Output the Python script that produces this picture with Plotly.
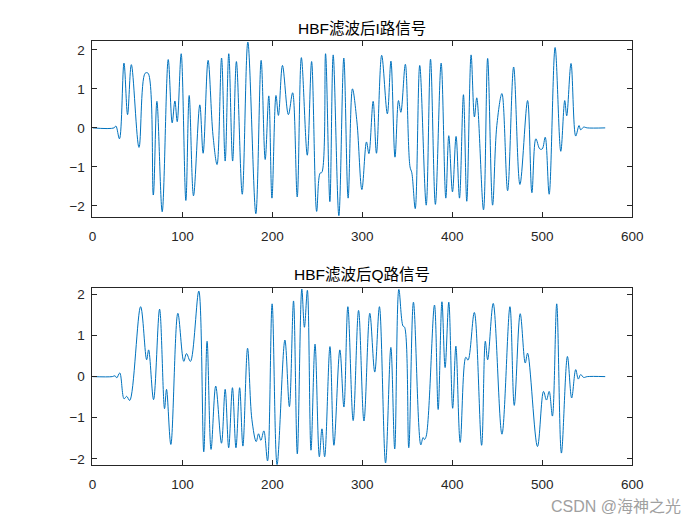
import plotly.graph_objects as go

# ---- data (extrema of the filtered signals) ----
i_x = [0, 24, 26, 30, 35, 39, 43.2, 51.7, 58.5, 61.8, 67.6, 71.6, 77.5, 84.2, 88.6, 91.6, 94.2,
       98.6, 103.8, 107.5, 112.3, 119.3, 123, 128.5, 134, 138.5, 143.5, 147.5, 151.5, 155.8,
       160, 166.5, 172.7, 181.6, 187.5, 192, 196, 199.5, 204, 206.7, 211.2, 217.8, 222.5,
       227.6, 232.2, 238.8, 243.6, 249.2, 253, 255, 259.1, 263.9, 267.6, 273.9, 279.4, 284.2,
       289, 294, 299.5, 304.6, 307.3, 312, 315.7, 321.5, 327.8, 331.8, 336.3, 340.2, 342.8,
       347.8, 353, 355, 358.8, 363.8, 371, 375.8, 381.2, 387.6, 392.8, 396.1, 400.2, 404.2,
       408, 412.4, 416.1, 420.9, 424.6, 427.2, 434.7, 439.3, 444.8, 449.5, 455.2, 461.5,
       468.2, 475.2, 483.7, 488.5, 492.9, 497.3, 500, 503.3, 507.7, 514.3, 520.6, 525, 527.2,
       532, 537.2, 540.9, 542.7, 546, 550, 570]
i_y = [0, 0, 0.05, -0.28, 1.66, 0.34, 1.62, -0.5, 1.40, 1.40, -1.72, 0.68, -2.15, 1.75, 0.13, 0.69, 0.16,
       1.9, -1.86, 0.83, -1.74, 0.59, -0.65, 1.73, -0.2, -0.94, 1.79, -0.85, 1.9, -0.85,
       1.7, -1.7, 2.2, -2.2, 1.73, -0.81, 0.82, -1.8, 0.83, 0.32, 1.6, 0.34, 0.9,
       -1.77, 1.8, -0.7, 1.7, -2.14, -1.16, -1.14, 1.9, -1.89, 1.87, -2.25, 1.79, -1.8,
       1.0, 0.15, -1.58, -0.36, -0.66, 0.68, -0.65, 1.86, 0.36, 1.71, -0.75, 0.7, 0.4,
       1.63, -1.0, -1.15, -2.07, 1.6, -1.98, 1.76, -1.96, 1.66, -1.8, -0.2, -1.64, -0.22,
       -1.8, 0.85, -1.88, 1.87, 0.28, 0.77, -2.1, 1.78, -1.98, 0.06, 0.88, -1.61,
       1.56, -1.45, 0.7, -1.66, -0.28, -0.54, -0.54, -0.24, -1.7, 2.06, -0.6, 0.7, 0.31,
       1.65, -0.21, 0.06, -0.05, 0.02, 0, 0]

q_x = [0, 22, 25, 27, 30.3, 35.1, 38, 41.4, 53.5, 60.2, 62.4, 67.9, 74.6, 80.1, 82.3, 87.1,
       94.9, 101.5, 104.5, 108.9, 118.2, 123.7, 127.4, 131.8, 137, 143.4, 147.5, 151.4,
       155.6, 159.5, 163.6, 167.2, 172.4, 177.2, 182, 184.6, 187.2, 190.5, 194.6, 199.7,
       205.2, 213.9, 218.9, 223.5, 227.7, 232.7, 235.6, 238.9, 242.9, 247.4, 252.2, 255.1,
       258.1, 264, 268.4, 275, 279.5, 283.9, 289.8, 295.8, 301.8, 308.3, 313.8, 319, 325.8,
       331.7, 336, 340.6, 345.2, 347, 351.6, 356.8, 365, 367.5, 369, 371, 380.2, 384.3,
       388.5, 392, 396.1, 400.4, 404, 408.8, 415, 417.5, 424.5, 432.6, 436.7, 439.3, 445.5,
       455.2, 464.1, 468.9, 475.5, 481.1, 483.7, 494.7, 501.4, 504.7, 507.7, 511.3, 516.1,
       521.3, 528, 532.7, 537.2, 540.1, 542.7, 546, 550, 570]
q_y = [0, 0, 0.02, -0.03, 0.09, -0.54, -0.48, -0.58, 1.70, 0.41, 0.65, -0.56, 1.64, -0.78, -0.31, -1.65,
       1.54, 0.37, 0.56, 0.37, 2.08, -1.83, 0.86, -1.77, -0.23, -1.62, -0.31, -1.73,
       -0.27, -1.73, -0.27, -1.69, 0.69, -1.04, -1.58, -1.39, -1.55, -1.32, -2.05, 1.77,
       -2.14, 0.89, -0.73, 1.84, -1.88, 2.13, 1.2, 2.1, -1.79, 0.79, -1.95, -1.27,
       -1.95, 0.73, -1.67, 0.65, -0.74, 1.70, -1.07, 1.61, -1.08, 1.54, 0.11, 1.70, -2.1,
       0.71, -1.76, 2.12, 1.23, 1.2, -1.73, 1.81, -1.66, -1.48, -1.53, -1.45, 1.74, -0.8,
       1.82, 0.22, 1.81, -0.77, 0.74, -1.6, 0.47, 0.4, 1.56, -1.67, 0.86, 0.41, 1.78,
       -1.40, 1.70, -0.70, 1.53, 0.33, 0.57, -1.70, -0.36, -0.57, -0.36, -0.96, 1.77,
       -1.86, 0.49, -0.52, 0.17, -0.06, 0.05, -0.02, 0, 0]

x_ticks = [0, 100, 200, 300, 400, 500, 600]
y_ticks = [-2, -1, 0, 1, 2]
title_i = "HBF滤波后I路信号"
title_q = "HBF滤波后Q路信号"
watermark = "CSDN @海神之光"

LINE = "#0072BD"
AX = "#262626"
FONT = "Liberation Sans, Arial, Noto Sans CJK SC, sans-serif"
W, H = 700, 525

def px(v):
    # horizontal placement correction (layout px -> photographed px ~ 0.982*v + 2.9)
    return min(1.0, (v - 2.9) / 0.982 / W)

fig = go.Figure()
fig.add_trace(go.Scatter(x=i_x, y=i_y, mode="lines", xaxis="x", yaxis="y",
                         line=dict(color=LINE, width=1, shape="spline", smoothing=1.0),
                         showlegend=False, hoverinfo="skip"))
fig.add_trace(go.Scatter(x=q_x, y=q_y, mode="lines", xaxis="x2", yaxis="y2",
                         line=dict(color=LINE, width=1, shape="spline", smoothing=1.0),
                         showlegend=False, hoverinfo="skip"))

xdom = [px(91.7), px(633.3)]
ydom1 = [(H - 216.7) / H, (H - 40) / H]
ydom2 = [(H - 466) / H, (H - 288.3) / H]

common_x = dict(range=[0, 600], tickvals=x_ticks, ticks="inside", ticklen=5, tickcolor=AX,
                showline=True, linecolor=AX, linewidth=1, mirror="allticks", showgrid=False,
                zeroline=False, tickfont=dict(family=FONT, size=13.5, color=AX),
                ticklabelstandoff=7, domain=xdom)
common_y = dict(tickvals=y_ticks, ticks="inside", ticklen=5, tickcolor=AX,
                showline=True, linecolor=AX, linewidth=1, mirror="allticks", showgrid=False,
                zeroline=False, tickfont=dict(family=FONT, size=13.5, color=AX),
                ticklabelstandoff=4)

fig.update_layout(
    width=W, height=H, autosize=False, margin=dict(l=0, r=0, t=0, b=0),
    paper_bgcolor="white", plot_bgcolor="white",
    xaxis=dict(**common_x, anchor="y"),
    yaxis=dict(**common_y, range=[-2.28, 2.23], domain=ydom1, anchor="x"),
    xaxis2=dict(**common_x, anchor="y2"),
    yaxis2=dict(**common_y, range=[-2.155, 2.15], domain=ydom2, anchor="x2"),
    annotations=[
        dict(text=title_i, x=px(362.5), y=(H - 28) / H, xref="paper", yref="paper",
             showarrow=False, xanchor="center", yanchor="middle",
             font=dict(family=FONT, size=15.5, color="#000000")),
        dict(text=title_q, x=px(362.5), y=(H - 275) / H, xref="paper", yref="paper",
             showarrow=False, xanchor="center", yanchor="middle",
             font=dict(family=FONT, size=15.5, color="#000000")),
        dict(text=watermark, x=px(684), y=(H - 507) / H, xref="paper", yref="paper",
             showarrow=False, xanchor="right", yanchor="middle",
             font=dict(family=FONT, size=16, color="#a0a0a0")),
    ],
)

fig.write_html("out.html",
               config={"displayModeBar": False, "responsive": False},
               post_script="document.body.style.margin='0';document.body.style.overflow='hidden';")
